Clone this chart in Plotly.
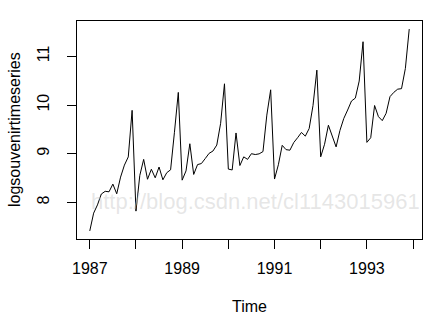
import numpy as np
import plotly.graph_objects as go

# Monthly souvenir sales, Jan 1987 - Dec 1993
sales = [
    1664.81, 2397.53, 2840.71, 3547.29, 3752.96, 3714.74, 4349.61, 3566.34, 5021.82, 6423.48, 7600.60, 19756.21,
    2499.81, 5198.24, 7225.14, 4806.03, 5900.88, 4951.34, 6179.12, 4752.15, 5496.43, 5835.10, 12600.08, 28541.72,
    4717.02, 5702.63, 9957.58, 5304.78, 6492.43, 6630.80, 7349.62, 8176.62, 8573.17, 9690.50, 15151.84, 34061.01,
    5921.10, 5814.58, 12421.25, 6369.77, 7609.12, 7224.75, 8121.22, 7979.25, 8093.06, 8476.70, 17914.66, 30114.41,
    4826.64, 6470.23, 9638.77, 8821.17, 8722.37, 10209.48, 11276.55, 12552.22, 11637.39, 13606.89, 21822.11, 45060.69,
    7615.03, 9849.69, 14558.40, 11587.33, 9332.56, 13082.09, 16732.78, 19888.61, 23933.38, 25391.35, 36024.80, 80721.71,
    10243.24, 11266.88, 21826.84, 17357.33, 15997.79, 18601.53, 26155.15, 28586.52, 30505.41, 30821.33, 46634.38, 104660.67,
]
start_year = 1987
log_sales = np.log(sales)
time = [start_year + i / 12 for i in range(len(sales))]

x_ticks = [1987, 1989, 1991, 1993]
x_minor = [1988, 1990, 1992, 1994]
y_ticks = [8, 9, 10, 11]

FONT = "Liberation Sans, Arial, sans-serif"

fig = go.Figure()
fig.add_trace(go.Scatter(x=time, y=log_sales, mode="lines",
                         line=dict(color="black", width=1), showlegend=False,
                         hoverinfo="skip"))

xr = time[-1] - time[0]
yr = float(log_sales.max() - log_sales.min())
fig.update_layout(
    width=446, height=321,
    margin=dict(l=77, r=24, t=21, b=82),
    paper_bgcolor="white", plot_bgcolor="white",
    font=dict(family=FONT, size=16, color="black"),
    xaxis=dict(range=[time[0] - 0.04 * xr, time[-1] + 0.04 * xr],
               tickmode="array", tickvals=x_ticks + x_minor,
               ticktext=[str(v) for v in x_ticks] + [""] * len(x_minor),
               ticks="outside", ticklen=9, tickwidth=1, tickcolor="black",
               showline=True, linecolor="black", linewidth=1, mirror=True,
               showgrid=False, zeroline=False, ticklabelstandoff=6),
    yaxis=dict(range=[float(log_sales.min()) - 0.04 * yr, float(log_sales.max()) + 0.04 * yr],
               tickmode="array", tickvals=y_ticks,
               ticktext=[str(v) for v in y_ticks], tickangle=-90,
               ticks="outside", ticklen=9, tickwidth=1, tickcolor="black",
               showline=True, linecolor="black", linewidth=1, mirror=True,
               showgrid=False, zeroline=False, ticklabelstandoff=12),
    annotations=[
        dict(text="Time", xref="paper", yref="paper", x=0.5, y=-0.0,
             xanchor="center", yanchor="middle", yshift=-67, showarrow=False,
             font=dict(size=16)),
        dict(text="logsouvenirtimeseries", xref="paper", yref="paper", x=0, y=0.5,
             xanchor="center", yanchor="middle", xshift=-63, textangle=-90,
             showarrow=False, font=dict(size=16)),
        dict(text="http://blog.csdn.net/cl1143015961", xref="paper", yref="y",
             x=0.516, y=8.02, xanchor="center", yanchor="middle", showarrow=False,
             font=dict(size=22, color="rgba(200,200,200,0.45)")),
    ],
)

fig.write_html("out.html", config={"displayModeBar": False},
               post_script="document.body.style.margin='0px';document.body.style.overflow='hidden';")
